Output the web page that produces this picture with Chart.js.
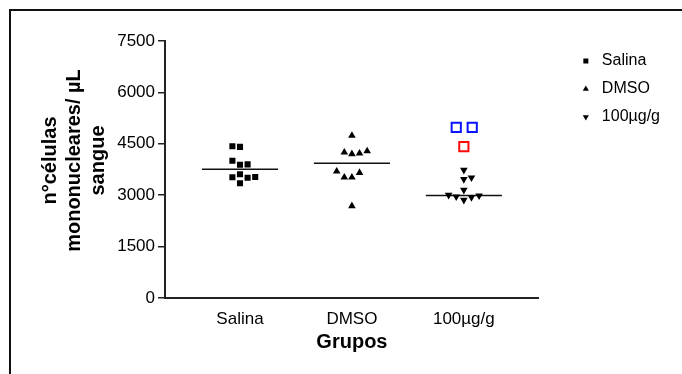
<!DOCTYPE html>
<html>
<head>
<meta charset="utf-8">
<script src="https://cdn.jsdelivr.net/npm/chart.js@4"></script>
<style>
  body { margin: 0; background: #fff; overflow: hidden; }
  #wrap { position: relative; width: 682px; height: 374px; }
  #frame { position: absolute; left: 9px; top: 9px; width: 700px; height: 400px;
           border-top: 2px solid #111; border-left: 2px solid #111; }
  canvas { position: absolute; left: 0; top: 0; }
</style>
</head>
<body>
<div id="wrap">
  <div id="frame"></div>
  <canvas id="canvas" width="682" height="374"></canvas>
</div>
<script>
// groups on the x axis
var groups = ["Salina", "DMSO", "100\u00b5g/g"];
var yTicks = [0, 1500, 3000, 4500, 6000, 7500];

// values (cells / uL)
var salinaValues = [4430, 4410, 4006, 3890, 3900, 3522, 3610, 3510, 3531, 3347];
var salinaCols   = [-1, 0, -1, 0, 1, -1, 0, 1, 2, 0];
var dmsoValues = [4740, 4250, 4202, 4222, 4289, 3697, 3522, 3522, 3657, 2685];
var dmsoCols   = [0, -1, 0, 1, 2, -2, -1, 0, 1, 0];
var doseValues = [3735, 3464, 3510, 3151, 3005, 2956, 2860, 2938, 2985];
var doseCols   = [0, 0, 1, 0, -2, -1, 0, 1, 2];
// highlighted points (hollow squares) over the 100ug/g group
var blueValues = [4980, 4980];
var blueCols   = [-1, 1.1];
var redValues  = [4415];
var redCols    = [0];
// horizontal bars per group
var groupMeans = [3755, 3930, 2990];

var colStep = 0.068;
var halfBar = 0.34;

function pts(groupIdx, vals, cols) {
  return vals.map(function (v, i) {
    return { x: groupIdx + 1 + cols[i] * colStep, y: v };
  });
}

function meanLine(groupIdx) {
  return {
    type: "line",
    label: "mean" + groupIdx,
    data: [
      { x: groupIdx + 1 - halfBar, y: groupMeans[groupIdx] },
      { x: groupIdx + 1 + halfBar, y: groupMeans[groupIdx] },
    ],
    borderColor: "#111",
    borderWidth: 1.5,
    pointRadius: 0,
    fill: false,
  };
}

var font = 'Arial, "Liberation Sans", sans-serif';

const ctx = document.getElementById("canvas").getContext("2d");

const myChart = new Chart(ctx, {
  type: "scatter",
  data: {
    datasets: [
      {
        label: "Salina",
        data: pts(0, salinaValues, salinaCols),
        pointStyle: "rect",
        pointRadius: 4.3,
        backgroundColor: "#000",
        borderColor: "#000",
        borderWidth: 0,
      },
      {
        label: "DMSO",
        data: pts(1, dmsoValues, dmsoCols),
        pointStyle: "triangle",
        pointRadius: 4.4,
        backgroundColor: "#000",
        borderColor: "#000",
        borderWidth: 0,
      },
      {
        label: "100\u00b5g/g",
        data: pts(2, doseValues, doseCols),
        pointStyle: "triangle",
        rotation: 180,
        pointRadius: 4.4,
        backgroundColor: "#000",
        borderColor: "#000",
        borderWidth: 0,
      },
      {
        label: "blue",
        data: pts(2, blueValues, blueCols),
        pointStyle: "rect",
        pointRadius: 6.5,
        backgroundColor: "rgba(255,255,255,0)",
        borderColor: "#0a14ff",
        borderWidth: 2,
      },
      {
        label: "red",
        data: pts(2, redValues, redCols),
        pointStyle: "rect",
        pointRadius: 6.5,
        backgroundColor: "rgba(255,255,255,0)",
        borderColor: "#ff0a0a",
        borderWidth: 2,
      },
      meanLine(0),
      meanLine(1),
      meanLine(2),
    ],
  },
  options: {
    responsive: false,
    animation: false,
    devicePixelRatio: 1,
    layout: { padding: { left: 30, top: 41, right: 12, bottom: 20 } },
    plugins: {
      tooltip: { enabled: false },
      legend: {
        position: "right",
        align: "start",
        labels: {
          usePointStyle: true,
          boxWidth: 16,
          boxHeight: 5,
          padding: 12,
          color: "#000",
          font: { family: font, size: 16 },
          filter: function (item) {
            return item.datasetIndex < 3;
          },
        },
      },
    },
    scales: {
      x: {
        type: "linear",
        min: 0.33,
        max: 3.67,
        afterBuildTicks: function (scale) {
          scale.ticks = groups.map(function (g, i) {
            return { value: i + 1 };
          });
        },
        afterFit: function (scale) {
          scale.height = 56;
        },
        ticks: {
          padding: 3,
          maxRotation: 0,
          color: "#000",
          font: { family: font, size: 17 },
          callback: function (v) {
            return groups[v - 1];
          },
        },
        grid: { display: false },
        border: { display: true, color: "#222", width: 2 },
        title: {
          display: true,
          text: "Grupos",
          color: "#000",
          font: { family: font, size: 20, weight: "bold" },
          padding: { top: 0, bottom: 0 },
        },
      },
      y: {
        min: 0,
        max: 7500,
        afterBuildTicks: function (scale) {
          scale.ticks = yTicks.map(function (v) {
            return { value: v };
          });
        },
        afterFit: function (scale) {
          scale.width = 135;
          // title sits a bit above the middle of the axis in the original
          if (!scale._titleShifted) {
            var orig = scale.drawTitle;
            scale.drawTitle = function () {
              this.ctx.save();
              this.ctx.translate(0, -9);
              orig.apply(this, arguments);
              this.ctx.restore();
            };
            scale._titleShifted = true;
          }
        },
        ticks: {
          padding: 3,
          color: "#000",
          font: { family: font, size: 17 },
          callback: function (v) {
            return String(v);
          },
        },
        grid: {
          drawOnChartArea: false,
          drawTicks: true,
          tickLength: 7,
          color: "#222",
          lineWidth: 1.5,
        },
        border: { display: true, color: "#222", width: 2 },
        title: {
          display: true,
          text: ["n\u00b0c\u00e9lulas", "mononucleares/ \u00b5L", "sangue"],
          color: "#000",
          font: { family: font, size: 20, weight: "bold" },
          padding: { top: 8, bottom: 0 },
        },
      },
      // empty space between plot and legend
      gap: {
        type: "linear",
        position: "right",
        display: true,
        grid: { display: false },
        border: { display: false },
        ticks: { display: false },
        afterFit: function (scale) {
          scale.width = 27;
        },
      },
    },
  },
});
</script>
</body>
</html>
